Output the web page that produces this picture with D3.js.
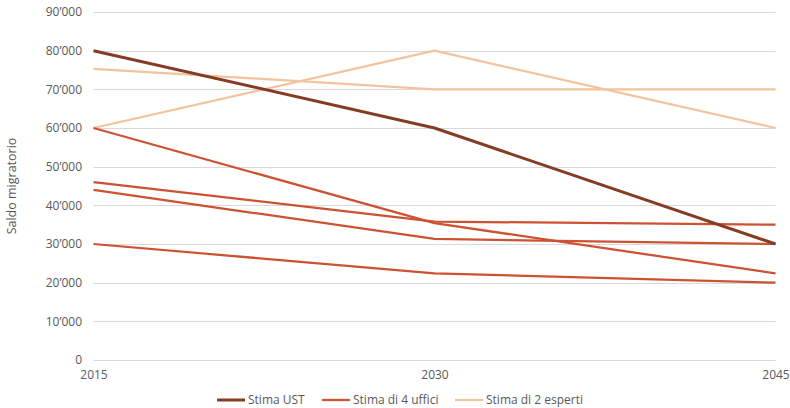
<!DOCTYPE html>
<html>
<head>
<meta charset="utf-8">
<script src="https://cdn.jsdelivr.net/npm/d3@7"></script>
<style>
  body { margin: 0; background: #fff; }
  text { font-family: "Open Sans", "Liberation Sans", sans-serif; fill: #595959; }
</style>
</head>
<body>
<svg id="chart" width="790" height="408"></svg>
<script>
// Years on the x axis
const years = [2015, 2030, 2045];
// Y axis ticks
const yTicks = [0, 10000, 20000, 30000, 40000, 50000, 60000, 70000, 80000, 90000];

// Scenario series
const ust = [[80000, 60000, 30000]];
const uffici = [
  [60000, 35400, 22400],
  [46000, 35800, 35000],
  [44000, 31300, 30000],
  [30000, 22400, 20000]
];
const esperti = [
  [75300, 70000, 70000],
  [60000, 80000, 60000]
];

const groups = [
  { name: "Stima UST", color: "#843c24", width: 3, lines: ust },
  { name: "Stima di 4 uffici", color: "#cc5233", width: 2.25, lines: uffici },
  { name: "Stima di 2 esperti", color: "#f2c39c", width: 2.25, lines: esperti }
];

const svg = d3.select("#chart");
const x = d3.scalePoint().domain(years).range([93.5, 775.5]);
const y = d3.scaleLinear().domain([0, 90000]).range([360, 12]);

const fmt = v => v === 0 ? "0" : d3.format(",")(v).replace(/,/g, "\u2019");

// Gridlines
svg.append("g")
  .selectAll("line")
  .data(yTicks)
  .join("line")
  .attr("x1", 93.5).attr("x2", 775.5)
  .attr("y1", d => Math.round(y(d)) + 0.5).attr("y2", d => Math.round(y(d)) + 0.5)
  .attr("stroke", "#d9d9d9").attr("stroke-width", 1);

// Y axis labels
const yAxis = svg.append("g").attr("transform", "translate(88,0)")
  .call(d3.axisLeft(y).tickValues(yTicks).tickFormat(fmt).tickSize(0).tickPadding(6));
yAxis.select(".domain").remove();
yAxis.selectAll("text").attr("font-size", 12).style("font-family", "'Open Sans', sans-serif").attr("fill", "#595959");

// X axis labels
const xAxis = svg.append("g").attr("transform", "translate(0,366)")
  .call(d3.axisBottom(x).tickSize(0).tickPadding(4));
xAxis.select(".domain").remove();
xAxis.selectAll("text").attr("font-size", 12).style("font-family", "'Open Sans', sans-serif").attr("fill", "#595959");

// Y axis title
svg.append("text")
  .attr("transform", "translate(16,186) rotate(-90)")
  .attr("text-anchor", "middle")
  .attr("font-size", 12.5)
  .text("Saldo migratorio");

// Series lines (draw light ones first so darker sit on top)
const line = d3.line().x((d, i) => x(years[i])).y(d => y(d));
[...groups].reverse().forEach(g => {
  svg.append("g").selectAll("path")
    .data(g.lines)
    .join("path")
    .attr("d", line)
    .attr("fill", "none")
    .attr("stroke", g.color)
    .attr("stroke-width", g.width)
    .attr("stroke-linejoin", "round");
});

// Legend
const legendX = [217, 322, 455];
const legend = svg.append("g");
groups.forEach((g, i) => {
  legend.append("line")
    .attr("x1", legendX[i]).attr("x2", legendX[i] + 28)
    .attr("y1", 400).attr("y2", 400)
    .attr("stroke", g.color).attr("stroke-width", g.width);
  legend.append("text")
    .attr("x", legendX[i] + 31).attr("y", 404)
    .attr("font-size", 12)
    .text(g.name);
});
</script>
</body>
</html>
